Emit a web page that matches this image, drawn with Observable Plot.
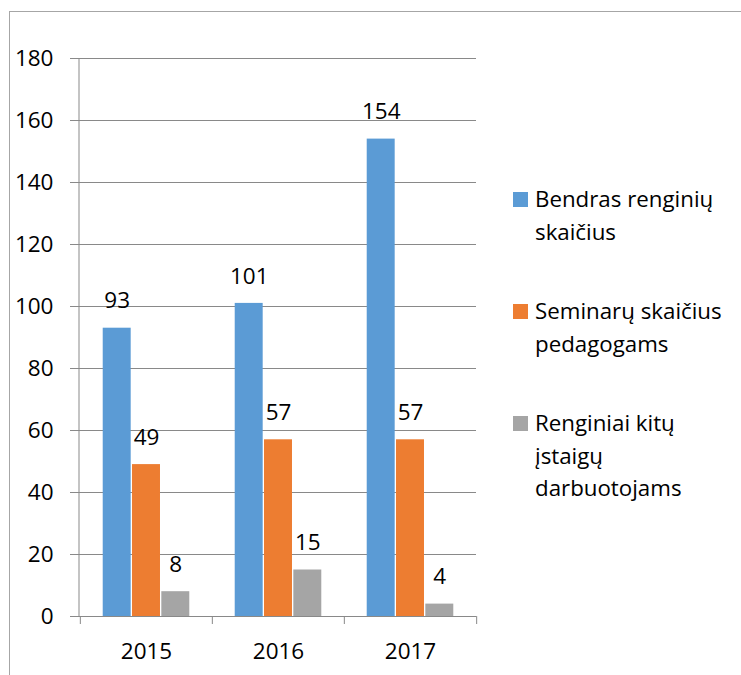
<!DOCTYPE html>
<html>
<head>
<meta charset="utf-8">
<script src="https://cdn.jsdelivr.net/npm/d3@7"></script>
<script src="https://cdn.jsdelivr.net/npm/@observablehq/plot@0.6"></script>
<style>
  html, body { margin: 0; padding: 0; background: #fff; }
  #wrap { position: relative; width: 741px; height: 675px; overflow: hidden; font-family: "Open Sans", Lato, sans-serif; }
  #frame { position: absolute; left: 9px; top: 11px; width: 900px; height: 900px; border: 1px solid #a6a6a6; box-sizing: border-box; }
  #chart { position: absolute; left: 0; top: 0; }
  .item { position: absolute; left: 513px; display: flex; align-items: flex-start; font-size: 22.3px; line-height: 32.5px; color: #000; }
  .sw { width: 15px; height: 15px; margin-top: 9px; margin-right: 7px; flex: none; }
</style>
</head>
<body>
<div id="wrap">
  <div id="frame"></div>
  <div id="chart"></div>
</div>
<script>
const years = ["2015", "2016", "2017"];
const seriesNames = ["Bendras renginių skaičius", "Seminarų skaičius pedagogams", "Renginiai kitų įstaigų darbuotojams"];
const legendLines = [["Bendras renginių", "skaičius"], ["Seminarų skaičius", "pedagogams"], ["Renginiai kitų", "įstaigų", "darbuotojams"]];
const bendras = [93, 101, 154];
const seminarai = [49, 57, 57];
const kitu = [8, 15, 4];
const colors = ["#5B9BD5", "#ED7D31", "#A5A5A5"];
const yTicks = [0, 20, 40, 60, 80, 100, 120, 140, 160, 180];

const values = [bendras, seminarai, kitu];
const W = 741, H = 675, ml = 79, mr = 265, mt = 58, mb = 59;
const bw = (W - ml - mr) / years.length;
const barW = 29.3;
const groupStart = (bw - 3 * barW) / 2;
const FS = 22.5;

const marks = [
  Plot.ruleY(yTicks.filter(d => d > 0), {stroke: "#898989", strokeWidth: 1}),
];
values.forEach((vals, i) => {
  const data = years.map((y, j) => ({year: y, value: vals[j]}));
  const il = groupStart + i * barW;
  const ir = bw - il - barW;
  marks.push(Plot.barY(data, {x: "year", y: "value", fill: colors[i], insetLeft: il + 0.5, insetRight: ir + 0.5}));
  marks.push(Plot.text(data, {x: "year", y: "value", text: d => String(d.value), dx: il + barW / 2 - bw / 2, dy: -27, fontSize: FS, fill: "#000", textAnchor: "middle", lineAnchor: "middle"}));
});
// axes
marks.push(Plot.ruleY([0], {stroke: "#898989", strokeWidth: 1, insetLeft: -9}));
marks.push(Plot.axisY({ticks: yTicks, tickSize: 9, tickPadding: 17, fontSize: FS, stroke: "#898989", color: "#000", label: null, strokeOpacity: 1}));
marks.push(Plot.axisX({tickSize: 0, tickPadding: 27, fontSize: FS, label: null, color: "#000"}));
// category boundary tick marks
const bounds = years.map(y => ({year: y, side: -1})).concat([{year: years[years.length - 1], side: 1}]);
bounds.forEach(b => {
  marks.push(Plot.ruleX([b], {x: "year", y1: 0, y2: 0, dx: b.side * bw / 2, insetTop: 8, stroke: "#898989"}));
});

const chart = Plot.plot({
  width: W, height: H,
  marginLeft: ml, marginRight: mr, marginTop: mt, marginBottom: mb,
  style: {fontFamily: "'Open Sans', Lato, sans-serif", background: "transparent", overflow: "visible"},
  x: {type: "band", domain: years, padding: 0},
  y: {domain: [0, 180]},
  marks
});
document.getElementById("chart").appendChild(chart);

// y-axis vertical line, positioned through Plot's y scale
const ys = chart.scale("y");
d3.select(chart).append("line")
  .attr("x1", ml).attr("x2", ml)
  .attr("y1", ys.apply(180)).attr("y2", ys.apply(0))
  .attr("stroke", "#898989");

// legend
const wrap = document.getElementById("wrap");
const tops = [183, 295, 407];
legendLines.forEach((lines, i) => {
  const it = document.createElement("div");
  it.className = "item";
  it.style.top = tops[i] + "px";
  it.title = seriesNames[i];
  const sw = document.createElement("div");
  sw.className = "sw";
  sw.style.background = colors[i];
  const tx = document.createElement("div");
  tx.innerHTML = lines.join("<br>");
  it.appendChild(sw); it.appendChild(tx);
  wrap.appendChild(it);
});
</script>
</body>
</html>
